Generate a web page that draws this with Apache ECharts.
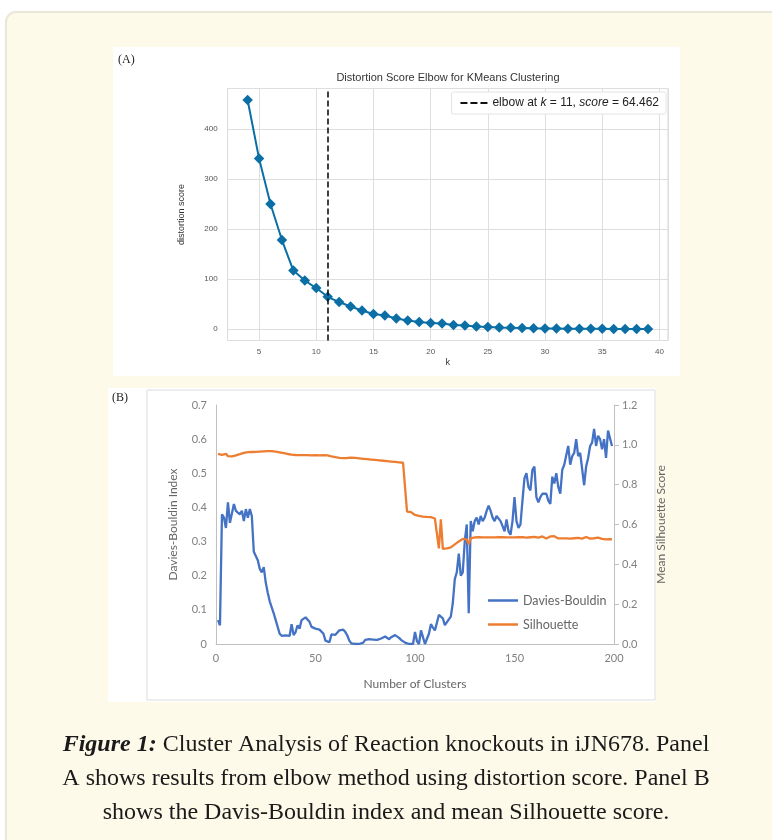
<!DOCTYPE html>
<html><head><meta charset="utf-8">
<script src="https://cdn.jsdelivr.net/npm/echarts@6/dist/echarts.min.js"></script>
<style>html,body{margin:0;padding:0;background:#fff}#c{width:772px;height:840px}</style>
</head><body><div id="c"></div>
<script>
// ---- Panel A data ----
const kValues = [4,5,6,7,8,9,10,11,12,13,14,15,16,17,18,19,20,21,22,23,24,25,26,27,28,29,30,31,32,33,34,35,36,37,38,39];
const distortion = [458,341,250,178,117,97,82,64.462,54,45,37,30,27,21,17,14,12,11,8,7,5,4,3,2.5,2,1.5,1.2,1,0.8,0.6,0.5,0.4,0.3,0.2,0.1,0.05];
const elbowK = 11;
const elbowScore = 64.462;

// ---- Panel B data (clusters start at 1) ----
const clusterStart = 1;
const daviesBouldin = [
0.07,0.055,0.38,0.37,0.34,0.415,0.355,0.36,0.41,0.39,
0.385,0.38,0.39,0.36,0.395,0.37,0.395,0.375,0.27,0.27,
0.245,0.22,0.21,0.225,0.18,0.15,0.125,0.12,0.09,0.07,
0.065,0.03,0.024,0.024,0.025,0.028,0.024,0.058,0.026,0.035,
0.055,0.045,0.07,0.075,0.078,0.08,0.065,0.05,0.045,0.045,
0.048,0.042,0.045,0.03,0.01,0.005,0.005,0.028,0.03,0.027,
0.032,0.04,0.038,0.042,0.035,0.025,0.01,0.002,0.002,0.0,
0.001,0.0,0.002,0.004,0.012,0.008,0.014,0.01,0.013,0.017,
0.012,0.009,0.016,0.02,0.022,0.018,0.014,0.02,0.024,0.026,
0.022,0.018,0.012,0.008,0.004,0.002,0.0,0.001,0.0,0.035,
0.008,0.0,0.04,0.02,0.0,0.0,0.03,0.058,0.048,0.04,
0.062,0.085,0.082,0.075,0.055,0.05,0.072,0.08,0.12,0.19,
0.21,0.265,0.2,0.21,0.3,0.35,0.09,0.36,0.33,0.36,
0.37,0.35,0.375,0.36,0.37,0.39,0.405,0.39,0.37,0.36,
0.375,0.38,0.36,0.345,0.33,0.365,0.33,0.32,0.36,0.43,
0.36,0.34,0.35,0.42,0.485,0.5,0.46,0.45,0.51,0.52,
0.43,0.415,0.43,0.44,0.44,0.44,0.42,0.41,0.49,0.47,
0.5,0.46,0.44,0.51,0.525,0.53,0.58,0.525,0.55,0.56,
0.6,0.55,0.56,0.555,0.465,0.52,0.545,0.58,0.59,0.63,
0.58,0.61,0.6,0.57,0.6,0.545,0.625,0.63,0.58
];
const silhouette = [
0.955,0.958,0.950,0.953,0.955,0.943,0.938,0.942,0.945,0.947,
0.950,0.953,0.957,0.960,0.962,0.963,0.963,0.964,0.964,0.965,
0.965,0.966,0.966,0.967,0.967,0.968,0.968,0.968,0.967,0.966,
0.964,0.962,0.960,0.958,0.956,0.954,0.952,0.951,0.950,0.949,
0.948,0.948,0.948,0.948,0.947,0.948,0.948,0.947,0.948,0.948,
0.948,0.947,0.948,0.948,0.947,0.947,0.947,0.942,0.940,0.938,
0.937,0.935,0.934,0.933,0.933,0.934,0.935,0.936,0.935,0.934,
0.933,0.932,0.931,0.930,0.929,0.928,0.927,0.926,0.925,0.924,
0.923,0.922,0.921,0.920,0.919,0.918,0.917,0.916,0.915,0.914,
0.913,0.912,0.911,0.910,0.909,0.665,0.663,0.662,0.655,0.648,
0.645,0.643,0.644,0.640,0.641,0.638,0.636,0.637,0.632,0.630,
0.628,0.480,0.626,0.478,0.480,0.480,0.482,0.485,0.490,0.500,
0.505,0.515,0.520,0.528,0.532,0.525,0.500,0.530,0.535,0.535,
0.534,0.536,0.535,0.535,0.536,0.535,0.536,0.535,0.536,0.535,
0.535,0.536,0.535,0.536,0.535,0.535,0.536,0.535,0.536,0.535,
0.534,0.536,0.533,0.537,0.535,0.534,0.537,0.536,0.535,0.538,
0.536,0.534,0.538,0.540,0.535,0.530,0.532,0.540,0.532,0.541,
0.533,0.530,0.531,0.530,0.532,0.530,0.531,0.529,0.530,0.531,
0.530,0.533,0.530,0.529,0.531,0.537,0.532,0.529,0.530,0.531,
0.529,0.534,0.530,0.528,0.524,0.525,0.523,0.526,0.525
];

const captionLines = [
  ['Figure 1:', ' Cluster Analysis of Reaction knockouts in iJN678. Panel'],
  ['', 'A shows results from elbow method using distortion score. Panel B'],
  ['', 'shows the Davis-Bouldin index and mean Silhouette score.']
];

const elbowData = kValues.map((k, i) => [k, distortion[i]]);
const dbData = daviesBouldin.map((v, i) => [i + clusterStart, v]);
const silData = silhouette.map((v, i) => [i + clusterStart, v]);

const fA = 'Liberation Sans, Arial, sans-serif';
const fB = 'Lato, sans-serif';
const fS = 'Liberation Serif, serif';

const chart = echarts.init(document.getElementById('c'), null, {renderer: 'canvas'});

const graphics = [
  {type: 'rect', z: -100, shape: {x: 6, y: 12, width: 820, height: 900, r: 10},
   style: {fill: '#fdfae9', stroke: '#e9e6da', lineWidth: 2}},
  {type: 'rect', z: -90, shape: {x: 113, y: 47, width: 567, height: 329}, style: {fill: '#ffffff'}},
  {type: 'rect', z: -90, shape: {x: 108, y: 388, width: 548, height: 314}, style: {fill: '#ffffff'}},
  {type: 'rect', z: -80, shape: {x: 147, y: 390, width: 508, height: 310}, style: {fill: '#ffffff', stroke: '#dcdcdc', lineWidth: 1}},
  {type: 'text', style: {text: '(A)', x: 118, y: 60, font: '12px ' + fS, fill: '#222', verticalAlign: 'middle'}},
  {type: 'text', style: {text: '(B)', x: 112, y: 398, font: '12px ' + fS, fill: '#222', verticalAlign: 'middle'}},
  {type: 'text', style: {text: 'Distortion Score Elbow for KMeans Clustering', x: 448, y: 78, font: '11px ' + fA, fill: '#333', align: 'center', verticalAlign: 'middle'}}
];
const capY = [745, 779, 813];
captionLines.forEach((ln, i) => {
  graphics.push({type: 'text', style: {
    text: (ln[0] ? '{b|' + ln[0] + '}' : '') + '{r|' + ln[1] + '}',
    x: 386, y: capY[i], align: 'center', verticalAlign: 'middle',
    rich: {
      b: {fontFamily: fS, fontSize: 24, fontWeight: 'bold', fontStyle: 'italic', fill: '#1a1a1a'},
      r: {fontFamily: fS, fontSize: 24, fill: '#1a1a1a'}
    }
  }});
});

const dashIcon = 'path://M0,0H7V2H0Z M10,0H17V2H10Z M20,0H27V2H20Z';
const lineIcon = 'path://M0,0H30V2.5H0Z';

const option = {
  animation: false,
  backgroundColor: '#ffffff',
  graphic: graphics,
  grid: [
    {left: 227.6, top: 88.5, width: 440.4, height: 252, show: true, borderColor: '#d6d6d6', borderWidth: 1, backgroundColor: 'transparent', containLabel: false},
    {left: 216, top: 405, width: 398, height: 239, containLabel: false}
  ],
  xAxis: [
    {gridIndex: 0, type: 'value', min: 2.25, max: 40.75, splitNumber: 8,
     axisLine: {show: false}, axisTick: {show: false},
     splitLine: {show: true, lineStyle: {color: '#dedede', width: 1}},
     axisLabel: {showMinLabel: false, showMaxLabel: false, fontSize: 8, color: '#555', fontFamily: fA, margin: 7},
     name: 'k', nameLocation: 'middle', nameGap: 18, nameTextStyle: {fontSize: 9, color: '#333', fontFamily: fA}},
    {gridIndex: 1, type: 'value', min: 0, max: 200, interval: 50,
     axisLine: {show: true, lineStyle: {color: '#c0c0c0', width: 1}}, axisTick: {show: false},
     splitLine: {show: false},
     axisLabel: {fontSize: 11, color: '#808080', fontFamily: fB, margin: 9},
     name: 'Number of Clusters', nameLocation: 'middle', nameGap: 34, nameTextStyle: {fontSize: 12, color: '#666', fontFamily: fB}}
  ],
  yAxis: [
    {gridIndex: 0, type: 'value', min: -22.9, max: 481, splitNumber: 5,
     axisLine: {show: false}, axisTick: {show: false},
     splitLine: {show: true, lineStyle: {color: '#dedede', width: 1}},
     axisLabel: {showMinLabel: false, showMaxLabel: false, fontSize: 8, color: '#555', fontFamily: fA, margin: 10},
     name: 'distortion score', nameLocation: 'middle', nameGap: 42, nameTextStyle: {fontSize: 9, color: '#333', fontFamily: fA}},
    {gridIndex: 1, type: 'value', min: 0, max: 0.7, interval: 0.1, position: 'left',
     axisLine: {show: true, lineStyle: {color: '#c0c0c0', width: 1}}, axisTick: {show: false},
     splitLine: {show: false},
     axisLabel: {fontSize: 11, color: '#808080', fontFamily: fB, margin: 9},
     name: 'Davies-Bouldin Index', nameLocation: 'middle', nameGap: 37, nameTextStyle: {fontSize: 12, color: '#666', fontFamily: fB}},
    {gridIndex: 1, type: 'value', min: 0, max: 1.2, interval: 0.2, position: 'right',
     axisLine: {show: true, lineStyle: {color: '#c0c0c0', width: 1}},
     axisTick: {show: true, inside: false, length: 5, lineStyle: {color: '#c0c0c0'}},
     splitLine: {show: false},
     axisLabel: {fontSize: 11, color: '#808080', fontFamily: fB, margin: 8, formatter: v => v.toFixed(1)},
     name: 'Mean Silhouette Score', nameLocation: 'middle', nameGap: 41, nameRotate: 90, nameTextStyle: {fontSize: 12, color: '#666', fontFamily: fB}}
  ],
  legend: [
    {data: [{name: 'elbow', icon: dashIcon, itemStyle: {color: '#111'}}], right: 106, top: 92, orient: 'horizontal',
     backgroundColor: '#ffffff', borderColor: '#e4e4e4', borderWidth: 1, borderRadius: 2,
     padding: [5, 7, 5, 9], itemWidth: 27, itemHeight: 2,
     formatter: () => 'elbow at {i|k} = ' + elbowK + ', {i|score} = ' + elbowScore,
     textStyle: {fontSize: 12, color: '#222', fontFamily: fA,
       rich: {i: {fontSize: 12, fontStyle: 'italic', color: '#222', fontFamily: fA}}}},
    {data: [{name: 'Davies-Bouldin', icon: lineIcon}, {name: 'Silhouette', icon: lineIcon}],
     left: 488, top: 593, orient: 'vertical', padding: 0,
     itemWidth: 30, itemHeight: 2.5, itemGap: 9,
     textStyle: {fontSize: 12.5, color: '#666', fontFamily: fB, lineHeight: 15}}
  ],
  series: [
    {name: 'distortion', type: 'line', xAxisIndex: 0, yAxisIndex: 0, data: elbowData,
     color: '#0b6fa5', symbol: 'diamond', symbolSize: 10.5, showSymbol: true,
     lineStyle: {width: 2, color: '#0b6fa5'}, itemStyle: {color: '#0b6fa5'}, z: 3},
    {name: 'elbow', type: 'line', xAxisIndex: 0, yAxisIndex: 0, data: [], symbol: 'none',
     color: '#111', lineStyle: {type: [6, 3], width: 1.6, color: '#111'},
     markLine: {silent: true, symbol: 'none', label: {show: false},
       lineStyle: {type: [6, 3], width: 1.6, color: '#111'},
       data: [{xAxis: elbowK}]}, z: 4},
    {name: 'Davies-Bouldin', type: 'line', xAxisIndex: 1, yAxisIndex: 1, data: dbData,
     symbol: 'none', color: '#4472c4', lineStyle: {width: 2.3, color: '#4472c4'}},
    {name: 'Silhouette', type: 'line', xAxisIndex: 1, yAxisIndex: 2, data: silData,
     symbol: 'none', color: '#ed7d31', lineStyle: {width: 2.3, color: '#ed7d31'}}
  ]
};
chart.setOption(option);
</script>
</body></html>
